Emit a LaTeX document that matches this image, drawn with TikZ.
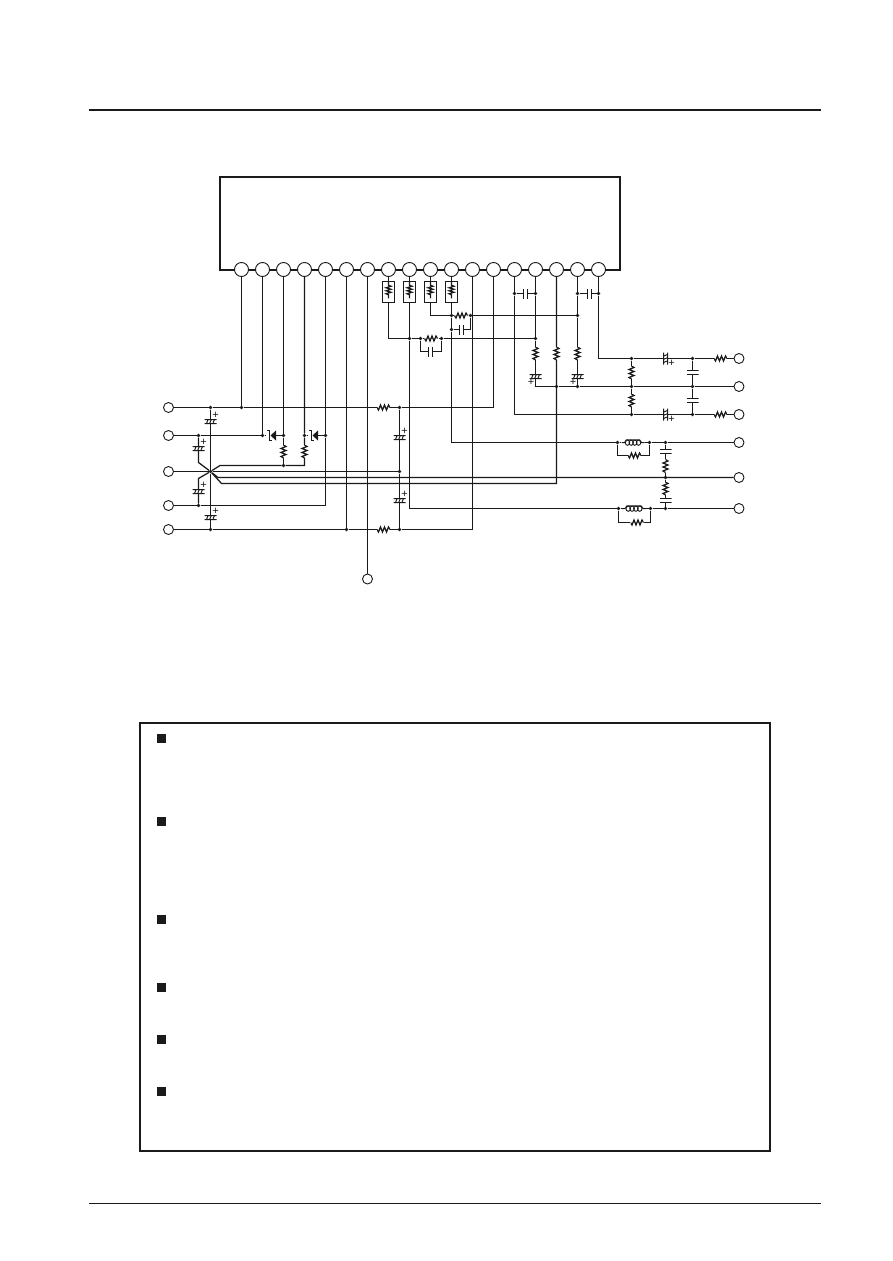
\documentclass[tikz,border=0pt]{standalone}
\usetikzlibrary{calc}
\usepackage{fontspec}
\setmainfont{Liberation Sans}
\definecolor{ink}{HTML}{1A1A1A}
\tikzset{
  wire/.style={line width=1.25pt,color=ink,line join=miter},
  heavy/.style={line width=2pt,color=ink},
  pinball/.style={circle,draw=ink,line width=0.9pt,fill=white,minimum size=14pt,inner sep=0pt},
  term/.style={circle,draw=ink,line width=0.9pt,fill=white,minimum size=10pt,inner sep=0pt},
  dot/.style={circle,fill=ink,minimum size=3.6pt,inner sep=0pt},
  bullet/.style={rectangle,fill=ink,minimum size=9pt,inner sep=0pt},
  plusmark/.style={text=ink,font=\fontsize{11}{11}\selectfont,inner sep=0pt},
  hres/.style={rectangle,minimum width=13pt,minimum height=9pt,inner sep=0pt,
    path picture={\draw[wire] ([xshift=-6.5pt]path picture bounding box.center)
      -- ++(1.5,2.5) -- ++(2,-5) -- ++(2,5) -- ++(2,-5) -- ++(2,5) -- ++(2,-5) -- ++(1.5,2.5);}},
  vres/.style={rectangle,minimum width=9pt,minimum height=13pt,inner sep=0pt,
    path picture={\draw[wire] ([yshift=6.5pt]path picture bounding box.center)
      -- ++(2.5,1.5) -- ++(-5,2) -- ++(5,2) -- ++(-5,2) -- ++(5,2) -- ++(-5,2) -- ++(2.5,1.5);}},
  boxres/.style={rectangle,draw=ink,line width=1.1pt,minimum width=12pt,minimum height=20.5pt,inner sep=0pt,
    path picture={\draw[wire] ([yshift=10.25pt]path picture bounding box.center)
      -- ++(0,3.5) -- ++(2.5,1) -- ++(-5,1.5) -- ++(5,1.5) -- ++(-5,1.5) -- ++(5,1.5) -- ++(-5,1.5) -- ++(2.5,1) -- ++(0,3.5);}},
  vcap/.style={rectangle,minimum width=12pt,minimum height=5pt,inner sep=0pt,
    path picture={\draw[wire] ([shift={(-6pt,2pt)}]path picture bounding box.center) -- ++(12pt,0pt)
      ([shift={(-6pt,-2pt)}]path picture bounding box.center) -- ++(12pt,0pt);}},
  hcap/.style={rectangle,minimum height=10pt,minimum width=5pt,inner sep=0pt,
    path picture={\draw[wire] ([shift={(2pt,-5pt)}]path picture bounding box.center) -- ++(0pt,10pt)
      ([shift={(-2pt,-5pt)}]path picture bounding box.center) -- ++(0pt,10pt);}},
  vpol/.style={rectangle,minimum width=12pt,minimum height=5pt,inner sep=0pt,
    path picture={\draw[line width=1pt,ink]
      ([shift={(-6pt,2pt)}]path picture bounding box.center) -- ++(12pt,0pt)
      ([shift={(-6pt,-2pt)}]path picture bounding box.center) -- ++(12pt,0pt)
      ([shift={(-4pt,-2pt)}]path picture bounding box.center) -- ++(1.6pt,4pt)
      ([shift={(-0.8pt,-2pt)}]path picture bounding box.center) -- ++(1.6pt,4pt)
      ([shift={(2.4pt,-2pt)}]path picture bounding box.center) -- ++(1.6pt,4pt);}},
  hpol/.style={rectangle,minimum height=12pt,minimum width=5pt,inner sep=0pt,
    path picture={\draw[line width=1pt,ink]
      ([shift={(-2pt,-6pt)}]path picture bounding box.center) -- ++(0pt,12pt)
      ([shift={(2pt,-6pt)}]path picture bounding box.center) -- ++(0pt,12pt)
      ([shift={(-2pt,-4pt)}]path picture bounding box.center) -- ++(4pt,1.6pt)
      ([shift={(-2pt,-0.8pt)}]path picture bounding box.center) -- ++(4pt,1.6pt)
      ([shift={(-2pt,2.4pt)}]path picture bounding box.center) -- ++(4pt,1.6pt);}},
  zen/.style={rectangle,minimum width=11pt,minimum height=11pt,inner sep=0pt,
    path picture={
      \fill[ink] ([shift={(5.5pt,5pt)}]path picture bounding box.center) -- ++(0pt,-10pt) -- ++(-5.5pt,5pt) -- cycle;
      \draw[wire] ([shift={(-3.5pt,5pt)}]path picture bounding box.center) -- ++(2.5pt,0pt) -- ++(0pt,-10pt) -- ++(2pt,0pt);}},
  coil/.style={rectangle,minimum width=#1,minimum height=9pt,inner sep=0pt,
    path picture={\draw[line width=1pt,ink]
      ([shift={(-0.5*#1,0pt)}]path picture bounding box.center) -- ++(3pt,0pt) -- ++(2pt,2.7pt) -- ++(0.5*#1-5pt,0pt) -- ++(0.5*#1-5pt,0pt) -- ++(2pt,-2.7pt) -- ++(3pt,0pt);
      \foreach \k in {-1.5,-0.5,0.5,1.5}
        \draw[line width=0.9pt,ink] ([shift={(\k*0.16*#1,-0.2pt)}]path picture bounding box.center) ellipse (0.095*#1 and 2.6pt);}},
}
\begin{document}
\begin{tikzpicture}[x=1pt,y=-1pt]
\useasboundingbox (0,0) rectangle (892,1261);
% page rules and frames
\coordinate (ruleTa) at (89,110); \coordinate (ruleTb) at (821,110);
\coordinate (ruleBa) at (89,1203.5); \coordinate (ruleBb) at (821,1203.5);
\draw[heavy] (ruleTa) -- (ruleTb);
\draw[line width=1pt,ink] (ruleBa) -- (ruleBb);
\draw[heavy] (140,723) rectangle (770,1151);
\foreach \n/\y in {a/738.5,b/821.5,c/919,d/987,e/1039,f/1091}
  \node[bullet] (sq\n) at (161.5,\y) {};
% IC
\draw[heavy] (220,270) -- (220,177) -- (620,177) -- (620,270) -- cycle;
\foreach \i/\x in {1/241.5,2/262.5,3/283.5,4/304.5,5/325.5,6/346.5,7/367.5,8/388.5,9/409.5,10/430.5,11/451.5,12/472.5,13/493.5,14/514.5,15/535.5,16/556.5,17/577.5,18/598.5}
  \node[pinball] (p\i) at (\x,269.5) {};
% terminals
\node[term] (tL1) at (168.5,407.5) {};
\node[term] (tL2) at (168.5,435.5) {};
\node[term] (tL3) at (168.5,471.5) {};
\node[term] (tL4) at (168.5,505.5) {};
\node[term] (tL5) at (168.5,529.5) {};
\node[term] (tB) at (367.5,579) {};
\node[term] (tR1) at (739,358.5) {};
\node[term] (tR2) at (739,386.5) {};
\node[term] (tR3) at (739,414.5) {};
\node[term] (tR4) at (739,442.5) {};
\node[term] (tR5) at (739,477.5) {};
\node[term] (tR6) at (739,508.5) {};
% junctions
\node[dot] (dA) at (210.5,407.5) {};
\node[dot] (d1) at (241.5,407.5) {};
\node[dot] (dB) at (399.5,407.5) {};
\node[dot] (dC) at (198.5,435.5) {};
\node[dot] (d2) at (262.5,435.5) {};
\node[dot] (d3) at (283.5,435.5) {};
\node[dot] (d4) at (304.5,435.5) {};
\node[dot] (d5) at (325.5,435.5) {};
\node[dot] (d6) at (283.5,465.5) {};
\node[dot] (dS) at (210.5,471.5) {};
\node[dot] (dE) at (399.5,471.5) {};
\node[dot] (dF) at (198.5,505.5) {};
\node[dot] (dG) at (210.5,529.5) {};
\node[dot] (dH) at (346.5,529.5) {};
\node[dot] (dI) at (399.5,529.5) {};
\node[dot] (e1) at (409.5,338.5) {};
\node[dot] (e2) at (420.5,338.5) {};
\node[dot] (e3) at (441.5,338.5) {};
\node[dot] (e4) at (535.5,338.5) {};
\node[dot] (f1) at (451.5,315.5) {};
\node[dot] (f2) at (470.5,315.5) {};
\node[dot] (f3) at (577.5,315.5) {};
\node[dot] (f4) at (451.5,329.5) {};
\node[dot] (g1) at (514.5,293.5) {};
\node[dot] (g2) at (535.5,293.5) {};
\node[dot] (g3) at (577.5,293.5) {};
\node[dot] (g4) at (598.5,293.5) {};
\node[dot] (h1) at (556.5,386.5) {};
\node[dot] (h2) at (577.5,386.5) {};
\node[dot] (h3) at (631.5,358.5) {};
\node[dot] (h4) at (631.5,386.5) {};
\node[dot] (h5) at (631.5,414.5) {};
\node[dot] (h6) at (692.5,358.5) {};
\node[dot] (h7) at (692.5,386.5) {};
\node[dot] (h8) at (692.5,414.5) {};
\node[dot] (i1) at (617.5,442.5) {};
\node[dot] (i2) at (649.5,442.5) {};
\node[dot] (i3) at (665.5,442.5) {};
\node[dot] (i4) at (665.5,477.5) {};
\node[dot] (i5) at (618.5,508.5) {};
\node[dot] (i6) at (650.5,508.5) {};
\node[dot] (i7) at (665.5,508.5) {};
% free bends
\coordinate (cUp) at (220,465.5);
\coordinate (c4b) at (304.5,465.5);
\coordinate (cNw) at (198.5,462.5);
\coordinate (cSw) at (198.5,478.5);
\coordinate (cM) at (218,477.5);
\coordinate (cN) at (221.5,483.5);
\coordinate (c13) at (493.5,407.5);
\coordinate (c5) at (325.5,505.5);
\coordinate (c12) at (472.5,529.5);
\coordinate (c8) at (388.5,338.5);
\coordinate (c9) at (409.5,508.5);
\coordinate (c10) at (430.5,315.5);
\coordinate (c11) at (451.5,442.5);
\coordinate (c14) at (514.5,414.5);
\coordinate (c15) at (535.5,386.5);
\coordinate (c16) at (556.5,483.5);
\coordinate (c18) at (598.5,358.5);
\coordinate (k1) at (420.5,351.5);
\coordinate (k2) at (441.5,351.5);
\coordinate (k3) at (470.5,329.5);
\coordinate (l1) at (617.5,455.5);
\coordinate (l2) at (649.5,455.5);
\coordinate (l3) at (618.5,522.5);
\coordinate (l4) at (650.5,522.5);
% parts
\node[hres] (R1) at (383.5,407.5) {};
\node[hres] (R2) at (383.5,529.5) {};
\node[zen] (Z1) at (270.5,435.5) {};
\node[zen] (Z2) at (312.5,435.5) {};
\node[vres] (R3) at (283.5,451.5) {};
\node[vres] (R4) at (304.5,451.5) {};
\node[vpol,label={[plusmark,xshift=5pt,yshift=6.5pt]center:+}] (C1) at (210.5,421.5) {};
\node[vpol,label={[plusmark,xshift=5pt,yshift=6.5pt]center:+}] (C2) at (198.5,448.5) {};
\node[vpol,label={[plusmark,xshift=5pt,yshift=6.5pt]center:+}] (C3) at (198.5,491.5) {};
\node[vpol,label={[plusmark,xshift=5pt,yshift=6.5pt]center:+}] (C4) at (210.5,517.5) {};
\node[vpol,label={[plusmark,xshift=5pt,yshift=6.5pt]center:+}] (C5) at (399.5,437.5) {};
\node[vpol,label={[plusmark,xshift=5pt,yshift=6.5pt]center:+}] (C6) at (399.5,500.5) {};
\node[boxres] (B1) at (388.5,292) {};
\node[boxres] (B2) at (409.5,292) {};
\node[boxres] (B3) at (430.5,292) {};
\node[boxres] (B4) at (451.5,292) {};
\node[hres,minimum width=15pt] (R5) at (431,338.5) {};
\node[hres,minimum width=15pt] (R6) at (461,315.5) {};
\node[hcap] (C7) at (430.5,351.5) {};
\node[hcap] (C8) at (461.5,329.5) {};
\node[hcap] (C9) at (525.5,293.5) {};
\node[hcap] (C10) at (589.5,293.5) {};
\node[vres] (R7) at (535.5,353.5) {};
\node[vres] (R8) at (556.5,353.5) {};
\node[vres] (R9) at (577.5,353.5) {};
\node[vpol,label={[plusmark,xshift=-4.5pt,yshift=-5.5pt]center:+}] (C11) at (535.5,376.5) {};
\node[vpol,label={[plusmark,xshift=-4.5pt,yshift=-5.5pt]center:+}] (C12) at (577.5,376.5) {};
\node[vres] (R10) at (631.5,372.5) {};
\node[vres] (R11) at (631.5,400.5) {};
\node[hpol,label={[plusmark,xshift=6pt,yshift=-5pt]center:+}] (C13) at (665.5,358.5) {};
\node[hpol,label={[plusmark,xshift=6pt,yshift=-5pt]center:+}] (C14) at (665.5,414.5) {};
\node[vcap] (C15) at (692.5,372.5) {};
\node[vcap] (C16) at (692.5,400.5) {};
\node[hres] (R12) at (720.5,358.5) {};
\node[hres] (R13) at (720.5,414.5) {};
\node[coil=23pt] (L1) at (633,442.5) {};
\node[coil=24pt] (L2) at (634,508.5) {};
\node[hres] (R14) at (634.5,455.5) {};
\node[hres] (R15) at (637,522.5) {};
\node[vcap] (C17) at (665.5,451.5) {};
\node[vres] (R16) at (665.5,466) {};
\node[vres] (R17) at (665.5,488.5) {};
\node[vcap] (C18) at (665.5,500.5) {};
% left side
\draw[wire] (tL1) -- (dA) -- (d1) -- (R1) -- (dB) -- (c13) -- (p13);
\draw[wire] (p1) -- (d1);
\draw[wire] (tL2) -- (dC) -- (d2) -- (Z1) -- (d3);
\draw[wire] (d4) -- (Z2) -- (d5);
\draw[wire] (p2) -- (d2);
\draw[wire] (p3) -- (d3) -- (R3) -- (d6);
\draw[wire] (p4) -- (d4) -- (R4) -- (c4b) -- (d6) -- (cUp) -- (dS);
\draw[wire] (p5) -- (d5) -- (c5) -- (dF) -- (tL4);
\draw[wire] (tL3) -- (dS) -- (dE);
\draw[wire] (tL5) -- (dG) -- (dH) -- (R2) -- (dI) -- (c12) -- (p12);
\draw[wire] (p6) -- (dH);
\draw[wire] (p7) -- (tB);
\draw[wire] (dA) -- (C1) -- (dS) -- (C4) -- (dG);
\draw[wire] (dC) -- (C2) -- (cNw) -- (dS) -- (cSw) -- (C3) -- (dF);
\draw[wire] (dS) -- (cM) -- (tR5);
\draw[wire] (dS) -- (cN) -- (c16) -- (R8) -- (p16);
\draw[wire] (dB) -- (C5) -- (dE) -- (C6) -- (dI);
% resistor array
\draw[wire] (p8) -- (B1) -- (c8) -- (e1) -- (e2) -- (R5) -- (e3) -- (e4) -- (R7) -- (C11) -- (c15) -- (h1) -- (h2) -- (h4) -- (h7) -- (tR2);
\draw[wire] (p9) -- (B2) -- (e1) -- (c9) -- (i5) -- (L2) -- (i6) -- (i7) -- (tR6);
\draw[wire] (p10) -- (B3) -- (c10) -- (f1) -- (R6) -- (f2) -- (f3);
\draw[wire] (p11) -- (B4) -- (f1) -- (f4) -- (c11) -- (i1) -- (L1) -- (i2) -- (i3) -- (tR4);
\draw[wire] (e2) -- (k1) -- (C7) -- (k2) -- (e3);
\draw[wire] (f4) -- (C8) -- (k3) -- (f2);
% upper right
\draw[wire] (p14) -- (g1) -- (c14) -- (h5) -- (C14) -- (h8) -- (R13) -- (tR3);
\draw[wire] (p15) -- (g2) -- (e4);
\draw[wire] (g1) -- (C9) -- (g2);
\draw[wire] (p17) -- (g3) -- (f3) -- (R9) -- (C12) -- (h2);
\draw[wire] (g3) -- (C10) -- (g4);
\draw[wire] (R8) -- (h1);
\draw[wire] (p18) -- (g4) -- (c18) -- (h3) -- (C13) -- (h6) -- (R12) -- (tR1);
\draw[wire] (h3) -- (R10) -- (h4) -- (R11) -- (h5);
\draw[wire] (h6) -- (C15) -- (h7) -- (C16) -- (h8);
% filters
\draw[wire] (i1) -- (l1) -- (R14) -- (l2) -- (i2);
\draw[wire] (i5) -- (l3) -- (R15) -- (l4) -- (i6);
\draw[wire] (i3) -- (C17) -- (R16) -- (i4) -- (R17) -- (C18) -- (i7);
\end{tikzpicture}
\end{document}
